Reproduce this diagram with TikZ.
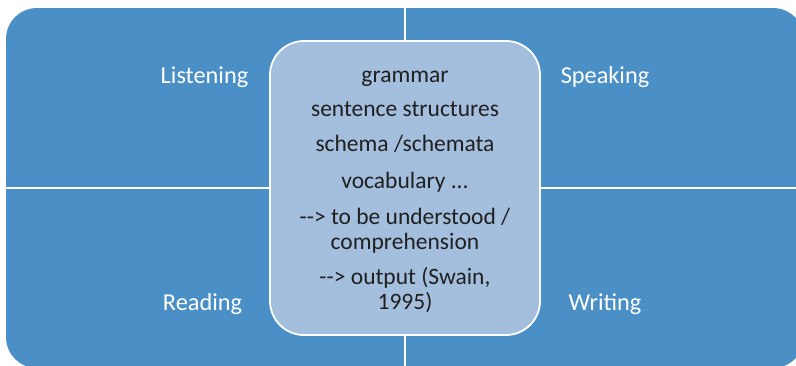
\documentclass[tikz,border=0pt]{standalone}
\usepackage{fontspec}
\setmainfont{Carlito}
\definecolor{outerblue}{RGB}{75,143,199}
\definecolor{innerblue}{RGB}{163,191,221}
\definecolor{darktext}{RGB}{32,32,32}
\tikzset{
  quadlabel/.style={anchor=base, text=white, font=\fontsize{24.3}{28}\selectfont, inner sep=0pt},
  centerline/.style={anchor=base, text=darktext, font=\fontsize{23.5}{28}\selectfont, inner sep=0pt},
  divider/.style={white, line width=2.2pt},
}
\begin{document}
\begin{tikzpicture}[x=1pt,y=-1pt]
\useasboundingbox (0,0) rectangle (796,365);
\clip (0,0) rectangle (796,365);
% outer matrix
\fill[outerblue, rounded corners=31pt] (6,8) rectangle (804,368);
\coordinate (vtop) at (405,8);
\coordinate (vbot) at (405,368);
\coordinate (hleft) at (6,188);
\coordinate (hright) at (804,188);
\draw[divider] (vtop) -- (vbot);
\draw[divider] (hleft) -- (hright);
% center box
\node[draw=white, line width=1.8pt, fill=innerblue, rounded corners=34pt,
      minimum width=270pt, minimum height=294pt, inner sep=0pt] (center) at (405,188) {};
% quadrant labels
\node[quadlabel] (listening) at (204.5,83) {Listening};
\node[quadlabel] (speaking) at (605,83) {Speaking};
\node[quadlabel] (reading) at (202.5,310.5) {Reading};
\node[quadlabel] (writing) at (605,310.5) {Writing};
% center text
\node[centerline] (l1) at (405,82) {grammar};
\node[centerline] (l2) at (405,116) {sentence structures};
\node[centerline] (l3) at (405,151) {schema /schemata};
\node[centerline] (l4) at (405,188) {vocabulary ...};
\node[centerline] (l5) at (405,224) {-{}-> to be understood /};
\node[centerline] (l6) at (405,249) {comprehension};
\node[centerline] (l7) at (405,284) {-{}-> output (Swain,};
\node[centerline] (l8) at (405,309) {1995)};
\end{tikzpicture}
\end{document}
